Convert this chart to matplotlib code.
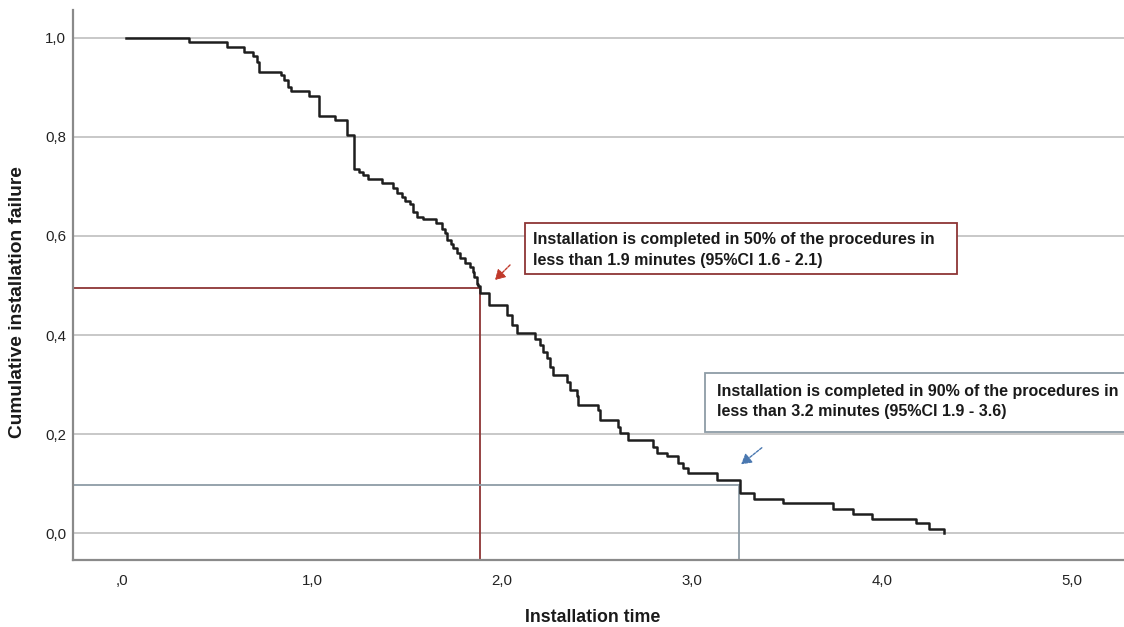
import matplotlib
matplotlib.use("Agg")
import matplotlib.pyplot as plt
from matplotlib.patches import Rectangle, FancyArrowPatch

plt.rcParams['font.family'] = ['Liberation Sans', 'DejaVu Sans']

# ---- data ----
times = [0.02, 0.354, 0.554, 0.642, 0.691, 0.709, 0.721, 0.837, 0.854, 0.872, 0.888,
         0.986, 1.037, 1.121, 1.186, 1.221, 1.247, 1.268, 1.295, 1.367, 1.428,
         1.446, 1.474, 1.489, 1.516, 1.533, 1.554, 1.586, 1.653, 1.683, 1.700,
         1.712, 1.730, 1.744, 1.762, 1.779, 1.805, 1.832, 1.846, 1.853, 1.867,
         1.875, 1.884, 1.933, 2.029, 2.051, 2.077, 2.174, 2.200, 2.217, 2.235,
         2.253, 2.270, 2.340, 2.358, 2.393, 2.402, 2.507, 2.516, 2.612, 2.621,
         2.665, 2.796, 2.814, 2.867, 2.928, 2.951, 2.980, 3.130, 3.255, 3.326,
         3.477, 3.744, 3.846, 3.949, 4.177, 4.247, 4.328]
failure = [1.000, 0.991, 0.981, 0.971, 0.964, 0.952, 0.931, 0.925, 0.915, 0.901, 0.892,
           0.882, 0.843, 0.834, 0.804, 0.735, 0.729, 0.722, 0.714, 0.706, 0.696,
           0.687, 0.679, 0.671, 0.664, 0.649, 0.639, 0.634, 0.626, 0.615, 0.605,
           0.592, 0.584, 0.575, 0.565, 0.555, 0.545, 0.538, 0.528, 0.518, 0.504,
           0.498, 0.484, 0.461, 0.440, 0.420, 0.404, 0.393, 0.380, 0.366, 0.353,
           0.336, 0.319, 0.306, 0.289, 0.276, 0.259, 0.249, 0.229, 0.215, 0.202,
           0.188, 0.175, 0.161, 0.155, 0.141, 0.131, 0.121, 0.108, 0.081, 0.069,
           0.061, 0.049, 0.039, 0.029, 0.020, 0.009, 0.000]

x_ticks = [0, 1, 2, 3, 4, 5]
x_tick_labels = [",0", "1,0", "2,0", "3,0", "4,0", "5,0"]
y_ticks = [0.0, 0.2, 0.4, 0.6, 0.8, 1.0]
y_tick_labels = ["0,0", "0,2", "0,4", "0,6", "0,8", "1,0"]

p50_time, p50_level = 1.884, 0.494
p90_time, p90_level = 3.249, 0.0975

text50 = ("Installation is completed in 50% of the procedures in\n"
          "less than 1.9 minutes (95%CI 1.6 - 2.1)")
text90 = ("Installation is completed in 90% of the procedures in\n"
          "less than 3.2 minutes (95%CI 1.9 - 3.6)")

# ---- figure ----
W, H = 1124, 627
fig = plt.figure(figsize=(W / 100, H / 100), dpi=100)
fig.patch.set_facecolor("white")

def fx(px):
    return px / W

def fy(py):
    return 1 - py / H

ax = fig.add_axes([fx(73), fy(560), fx(1124) - fx(73), fy(10) - fy(560)])
ax.set_xlim(-0.258, 5.274)
ax.set_ylim(-0.054, 1.056)

for v in y_ticks:
    ax.axhline(v, color="#c8c8c8", lw=1.4, zorder=1)

red = "#8e3535"
gray = "#8d9ca6"
ax.plot([-0.258, p50_time], [p50_level, p50_level], color=red, lw=1.3, zorder=2)
ax.plot([p50_time, p50_time], [-0.054, p50_level], color=red, lw=1.3, zorder=2)
ax.plot([-0.258, p90_time], [p90_level, p90_level], color=gray, lw=1.3, zorder=2)
ax.plot([p90_time, p90_time], [-0.054, p90_level], color=gray, lw=1.3, zorder=2)

ax.step(times, failure, where="post", color="#1e1e1e", lw=1.8, zorder=3)

for s in ["top", "right"]:
    ax.spines[s].set_visible(False)
for s in ["left", "bottom"]:
    ax.spines[s].set_color("#8a8a8a")
    ax.spines[s].set_linewidth(1.6)

ax.set_xticks(x_ticks)
ax.set_xticklabels(x_tick_labels)
ax.set_yticks(y_ticks)
ax.set_yticklabels(y_tick_labels)
ax.tick_params(axis="both", length=0, labelsize=10.8, colors="#222222")
ax.tick_params(axis="x", pad=10)
ax.tick_params(axis="y", pad=5)

fig.text(fx(18), fy(302), "Cumulative installation failure", rotation=90,
         ha="center", va="center", fontsize=13.8, fontweight="bold", color="#1a1a1a")
fig.text(fx(593), fy(617), "Installation time", ha="center", va="center",
         fontsize=12.8, fontweight="bold", color="#1a1a1a")

# annotation boxes
box1 = Rectangle((fx(525), fy(274.3)), fx(956.7) - fx(525), fy(222.7) - fy(274.3),
                 transform=fig.transFigure, facecolor="white", edgecolor=red, lw=1.3,
                 zorder=5)
fig.patches.append(box1)
fig.text(fx(533), fy(250), text50, ha="left", va="center", fontsize=11.5,
         fontweight="bold", color="#1a1a1a", linespacing=1.45, zorder=6)

box2 = Rectangle((fx(705), fy(431.7)), fx(1130) - fx(705), fy(373.3) - fy(431.7),
                 transform=fig.transFigure, facecolor="white", edgecolor=gray, lw=1.3,
                 zorder=5)
fig.patches.append(box2)
fig.text(fx(717), fy(401.5), text90, ha="left", va="center", fontsize=11.5,
         fontweight="bold", color="#1a1a1a", linespacing=1.38, zorder=6)

# arrows
a1 = FancyArrowPatch((fx(512), fy(263)), (fx(493), fy(282)), transform=fig.transFigure,
                     arrowstyle="-|>,head_length=6,head_width=3.5", color="#c0392b",
                     lw=1.0, linestyle=(0, (2, 1)), zorder=6)
fig.patches.append(a1)
a2 = FancyArrowPatch((fx(764), fy(446)), (fx(739), fy(466)), transform=fig.transFigure,
                     arrowstyle="-|>,head_length=6,head_width=3.5", color="#4a78b0",
                     lw=1.0, linestyle=(0, (2, 1)), zorder=6)
fig.patches.append(a2)

fig.savefig("out.png", dpi=100)
